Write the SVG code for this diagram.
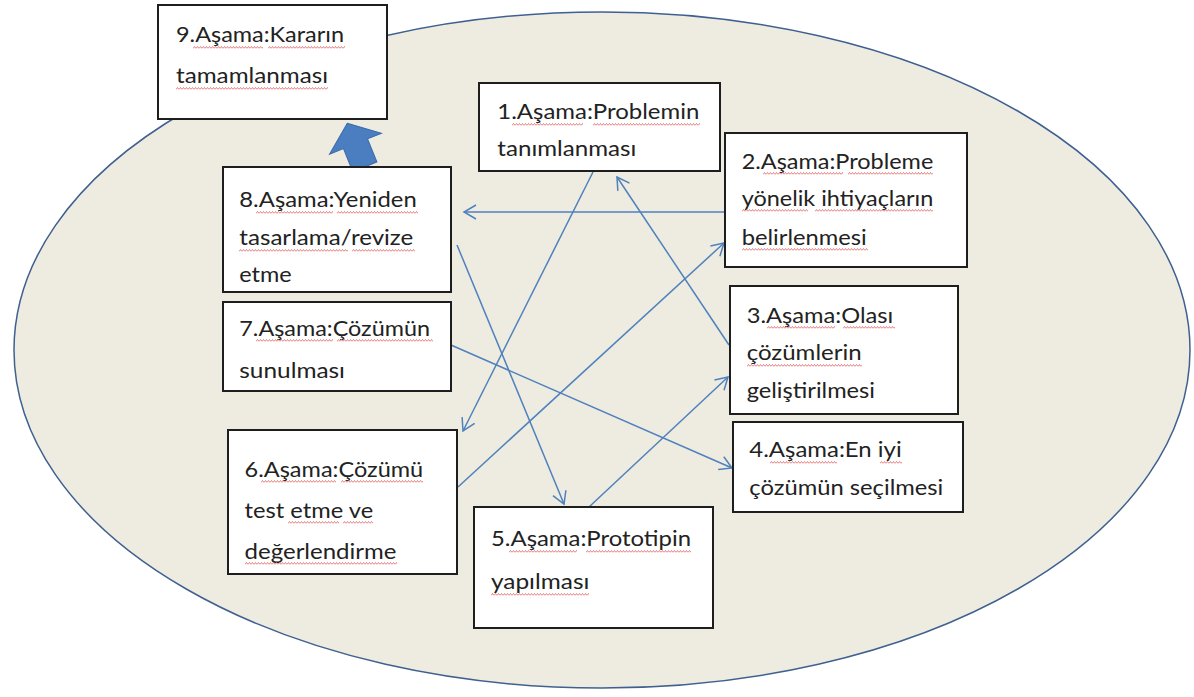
<svg xmlns="http://www.w3.org/2000/svg" width="1194" height="697" viewBox="0 0 1194 697">
<style>
.bx{fill:#fff;stroke:#1e1e1e;stroke-width:2}
.t{font-family:Lato,"Open Sans","Liberation Sans",sans-serif;font-size:21px;fill:#222}
.c{stroke:#4F81BD;stroke-width:1.5;fill:none;marker-end:url(#ah)}
</style>
<defs>
<marker id="ah" viewBox="0 0 16 16" refX="14" refY="8" markerWidth="16" markerHeight="16" markerUnits="userSpaceOnUse" orient="auto">
<path d="M2,1 L14,8 L2,15" fill="none" stroke="#4F81BD" stroke-width="1.5"/>
</marker>
<pattern id="sq" width="3" height="3" patternUnits="userSpaceOnUse">
<path d="M0,2.5 L1.5,0.5 L3,2.5" fill="none" stroke="#e06060" stroke-width="0.8"/>
</pattern>
</defs>
<rect width="1194" height="697" fill="#fff"/>
<ellipse cx="602" cy="350" rx="588" ry="338" fill="#EEECE1" stroke="#3F6090" stroke-width="1.5"/>
<g id="block-arrow">
<path d="M0,-22 L28,0 L13,0 L13,25 L-13,25 L-13,0 L-28,0 Z" transform="translate(355.5,143.7) rotate(-22)" fill="#4A7EC0" stroke="#3B6AA8" stroke-width="1"/>
</g>
<g id="connectors">
<line class="c" x1="725" y1="212" x2="464" y2="212"/>
<line class="c" x1="593" y1="172" x2="463" y2="431"/>
<line class="c" x1="729" y1="345" x2="617" y2="177"/>
<line class="c" x1="458" y1="487" x2="724" y2="243"/>
<line class="c" x1="457" y1="245" x2="564" y2="504"/>
<line class="c" x1="451" y1="345" x2="732" y2="468"/>
<line class="c" x1="589" y1="507" x2="728" y2="377"/>
</g>
<g id="n9">
<rect class="bx" x="158" y="5" width="229" height="114"/>
<text class="t" x="176" y="41.7" textLength="168" lengthAdjust="spacingAndGlyphs">9.Aşama:Kararın</text>
<text class="t" x="176" y="83.3" textLength="152" lengthAdjust="spacingAndGlyphs">tamamlanması</text>
<rect transform="translate(193,46)" width="70" height="3" fill="url(#sq)"/>
<rect transform="translate(268,46)" width="77" height="3" fill="url(#sq)"/>
<rect transform="translate(176,87)" width="152" height="3" fill="url(#sq)"/>
</g>
<g id="n1">
<rect class="bx" x="479" y="83" width="241" height="88"/>
<text class="t" x="497.3" y="119.3" textLength="202" lengthAdjust="spacingAndGlyphs">1.Aşama:Problemin</text>
<text class="t" x="497.3" y="156" textLength="139" lengthAdjust="spacingAndGlyphs">tanımlanması</text>
<rect transform="translate(512,123)" width="71" height="3" fill="url(#sq)"/>
<rect transform="translate(593,123)" width="107" height="3" fill="url(#sq)"/>
</g>
<g id="n2">
<rect class="bx" x="725" y="133" width="242" height="134"/>
<text class="t" x="741.7" y="169.3" textLength="191.6" lengthAdjust="spacingAndGlyphs">2.Aşama:Probleme</text>
<text class="t" x="741.7" y="206" textLength="191.6" lengthAdjust="spacingAndGlyphs">yönelik ihtiyaçların</text>
<text class="t" x="741.7" y="245" textLength="125" lengthAdjust="spacingAndGlyphs">belirlenmesi</text>
<rect transform="translate(763,172)" width="80" height="3" fill="url(#sq)"/>
<rect transform="translate(848,172)" width="85" height="3" fill="url(#sq)"/>
<rect transform="translate(742,209)" width="66" height="3" fill="url(#sq)"/>
<rect transform="translate(815,209)" width="118" height="3" fill="url(#sq)"/>
<rect transform="translate(742,248)" width="126" height="3" fill="url(#sq)"/>
</g>
<g id="n3">
<rect class="bx" x="730" y="286" width="228" height="128"/>
<text class="t" x="746.7" y="322.7" textLength="146.6" lengthAdjust="spacingAndGlyphs">3.Aşama:Olası</text>
<text class="t" x="746.7" y="360" textLength="115" lengthAdjust="spacingAndGlyphs">çözümlerin</text>
<text class="t" x="746.7" y="398.3" textLength="128.3" lengthAdjust="spacingAndGlyphs">geliştirilmesi</text>
<rect transform="translate(767,326)" width="68" height="3" fill="url(#sq)"/>
<rect transform="translate(843,326)" width="52" height="3" fill="url(#sq)"/>
<rect transform="translate(747,364)" width="115" height="3" fill="url(#sq)"/>
</g>
<g id="n4">
<rect class="bx" x="733" y="422" width="230" height="90"/>
<text class="t" x="749.3" y="457.3" textLength="152.4" lengthAdjust="spacingAndGlyphs">4.Aşama:En iyi</text>
<text class="t" x="749.3" y="495" textLength="194" lengthAdjust="spacingAndGlyphs">çözümün seçilmesi</text>
<rect transform="translate(770,461)" width="67" height="3" fill="url(#sq)"/>
<rect transform="translate(880,461)" width="22" height="3" fill="url(#sq)"/>
</g>
<g id="n5">
<rect class="bx" x="474" y="507" width="239" height="121"/>
<text class="t" x="491" y="546.4" textLength="200" lengthAdjust="spacingAndGlyphs">5.Aşama:Prototipin</text>
<text class="t" x="491" y="589.3" textLength="98.3" lengthAdjust="spacingAndGlyphs">yapılması</text>
<rect transform="translate(509,550)" width="68" height="3" fill="url(#sq)"/>
<rect transform="translate(586,550)" width="105" height="3" fill="url(#sq)"/>
<rect transform="translate(491,593)" width="98" height="3" fill="url(#sq)"/>
</g>
<g id="n6">
<rect class="bx" x="228" y="430" width="229" height="144"/>
<text class="t" x="244.6" y="476.8" textLength="178.6" lengthAdjust="spacingAndGlyphs">6.Aşama:Çözümü</text>
<text class="t" x="244.6" y="517.9" textLength="128.6" lengthAdjust="spacingAndGlyphs">test etme ve</text>
<text class="t" x="244.6" y="558.9" textLength="151.8" lengthAdjust="spacingAndGlyphs">değerlendirme</text>
<rect transform="translate(261,480)" width="75" height="3" fill="url(#sq)"/>
<rect transform="translate(341,480)" width="82" height="3" fill="url(#sq)"/>
<rect transform="translate(288,521)" width="51" height="3" fill="url(#sq)"/>
<rect transform="translate(343,521)" width="30" height="3" fill="url(#sq)"/>
<rect transform="translate(245,562)" width="152" height="3" fill="url(#sq)"/>
</g>
<g id="n7">
<rect class="bx" x="223" y="302" width="228" height="89"/>
<text class="t" x="239.3" y="335.7" textLength="190.7" lengthAdjust="spacingAndGlyphs">7.Aşama:Çözümün</text>
<text class="t" x="239.3" y="377.7" textLength="105.7" lengthAdjust="spacingAndGlyphs">sunulması</text>
<rect transform="translate(256,339)" width="77" height="3" fill="url(#sq)"/>
<rect transform="translate(337,339)" width="96" height="3" fill="url(#sq)"/>
</g>
<g id="n8">
<rect class="bx" x="223" y="167" width="228" height="125"/>
<text class="t" x="239.3" y="207.3" textLength="177.4" lengthAdjust="spacingAndGlyphs">8.Aşama:Yeniden</text>
<text class="t" x="239.3" y="245" textLength="174" lengthAdjust="spacingAndGlyphs">tasarlama/revize</text>
<text class="t" x="239.3" y="282.3" textLength="52.4" lengthAdjust="spacingAndGlyphs">etme</text>
<rect transform="translate(256,211)" width="77" height="3" fill="url(#sq)"/>
<rect transform="translate(337,211)" width="81" height="3" fill="url(#sq)"/>
<rect transform="translate(239,249)" width="109" height="3" fill="url(#sq)"/>
<rect transform="translate(352,249)" width="63" height="3" fill="url(#sq)"/>
</g>
</svg>
